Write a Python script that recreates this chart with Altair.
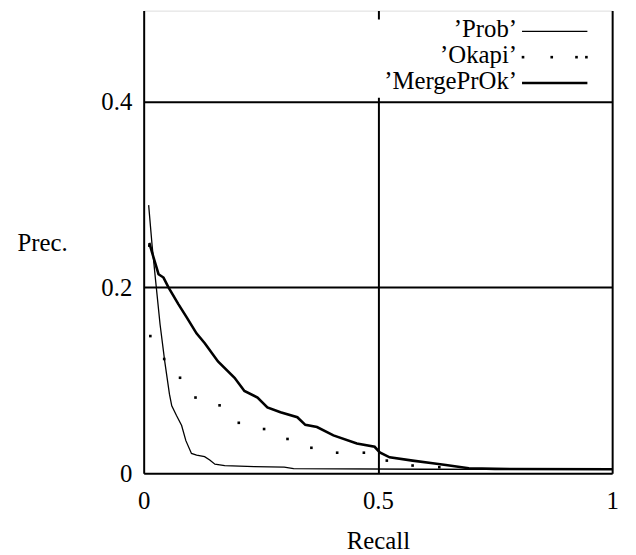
import altair as alt
import pandas as pd

# ---- data ----
prob_recall = [0.0106, 0.018, 0.0247, 0.035, 0.045, 0.055, 0.0599, 0.07, 0.081, 0.09, 0.102,
               0.113, 0.130, 0.141, 0.152, 0.173, 0.236, 0.30, 0.32, 0.60, 1.0]
prob_prec = [0.2886, 0.245, 0.211, 0.16, 0.12, 0.085, 0.0725, 0.062, 0.0513, 0.035, 0.0212,
             0.0195, 0.0177, 0.0142, 0.0096, 0.0082, 0.0071, 0.0064, 0.0048, 0.0042, 0.004]

okapi_recall = [0.012, 0.0142, 0.0438, 0.0776, 0.1106, 0.162, 0.203, 0.257, 0.307, 0.358,
                0.413, 0.470, 0.519, 0.574, 0.631]
okapi_prec = [0.245, 0.1476, 0.1229, 0.1027, 0.0814, 0.073, 0.0542, 0.0475, 0.0368, 0.0273,
              0.022, 0.022, 0.0135, 0.0082, 0.0064]

merge_recall = [0.012, 0.0211, 0.0317, 0.0423, 0.0529, 0.074, 0.0915, 0.1127, 0.1304, 0.1586,
                0.194, 0.215, 0.243, 0.264, 0.292, 0.328, 0.345, 0.370, 0.405, 0.455, 0.493,
                0.504, 0.525, 0.574, 0.617, 0.645, 0.694, 0.75, 1.0]
merge_prec = [0.248, 0.232, 0.2142, 0.2106, 0.2, 0.182, 0.168, 0.1505, 0.1399, 0.1203,
              0.1027, 0.0885, 0.0814, 0.0708, 0.0655, 0.0602, 0.052, 0.0496, 0.0407, 0.0319, 0.0284,
              0.0223, 0.017, 0.0135, 0.0106, 0.0088, 0.0053, 0.0046, 0.0042]

legend_labels = ["\u2019Prob\u2019", "\u2019Okapi\u2019", "\u2019MergePrOk\u2019"]
x_ticks = [0, 0.5, 1]
y_ticks = [0, 0.2, 0.4]

FONT = "Liberation Serif"
W, H = 473, 467

prob_df = pd.DataFrame({"recall": prob_recall, "prec": prob_prec})
okapi_df = pd.DataFrame({"recall": okapi_recall, "prec": okapi_prec})
merge_df = pd.DataFrame({"recall": merge_recall, "prec": merge_prec})
one = pd.DataFrame({"k": [0]})

xscale = alt.Scale(domain=[0, 1], nice=False, zero=False)
yscale = alt.Scale(domain=[0, 0.498], nice=False, zero=False)

xenc = alt.X("recall:Q", scale=xscale, axis=alt.Axis(
    values=x_ticks, grid=True, gridColor="black", gridWidth=2, gridOpacity=1,
    domain=False, ticks=False, tickSize=0, labelFlush=False, labelOverlap=False,
    labelFont=FONT, labelFontSize=25, labelColor="black", labelBaseline="alphabetic",
    labelPadding=36, labelFontWeight="normal",
    labelExpr="datum.value == 0 ? '0' : (datum.value == 1 ? '1' : format(datum.value, '.1f'))",
    title="Recall", titleFont=FONT, titleFontSize=25, titleColor="black", titleFontWeight="normal",
    titleX=236.5, titleY=76, titleAlign="center", titleBaseline="alphabetic", titleAngle=0))
yenc = alt.Y("prec:Q", scale=yscale, axis=alt.Axis(
    values=y_ticks, grid=True, gridColor="black", gridWidth=2, gridOpacity=1,
    domain=False, ticks=False, tickSize=0, labelFlush=False, labelOverlap=False,
    labelFont=FONT, labelFontSize=25, labelColor="black", labelPadding=12,
    labelFontWeight="normal",
    labelExpr="datum.value == 0 ? '0' : format(datum.value, '.1f')",
    title="Prec.", titleFont=FONT, titleFontSize=25, titleColor="black", titleFontWeight="normal",
    titleAngle=0, titleX=-102.5, titleY=234, titleAlign="center", titleBaseline="middle"))

base_x = alt.X("recall:Q", scale=xscale)
base_y = alt.Y("prec:Q", scale=yscale)

prob = alt.Chart(prob_df).mark_line(color="black", strokeWidth=1.3).encode(x=xenc, y=yenc)
merge = alt.Chart(merge_df).mark_line(color="black", strokeWidth=2.6).encode(x=base_x, y=base_y)
okapi = alt.Chart(okapi_df).mark_square(color="black", size=7, opacity=1).encode(x=base_x, y=base_y)

# legend (manual, in pixel positions)
leg_box = alt.Chart(one).mark_rect(fill="white").encode(
    x=alt.value(233), x2=alt.value(470), y=alt.value(9), y2=alt.value(88))
leg_layers = [leg_box]
for i, lab in enumerate(legend_labels):
    leg_layers.append(alt.Chart(one).mark_text(
        align="right", baseline="alphabetic", font=FONT, fontSize=25, fontWeight="normal",
        color="black").encode(
        x=alt.value(377), y=alt.value(27 + 26 * i), text=alt.value(lab)))
leg_layers.append(alt.Chart(one).mark_rule(color="black", strokeWidth=1.3).encode(
    x=alt.value(382), x2=alt.value(448), y=alt.value(21)))
leg_layers.append(alt.Chart(one).mark_rule(color="black", strokeWidth=2.6).encode(
    x=alt.value(382), x2=alt.value(448), y=alt.value(73)))
for px in [383, 412, 437, 447]:
    leg_layers.append(alt.Chart(one).mark_square(color="black", size=7, opacity=1).encode(
        x=alt.value(px), y=alt.value(47)))

chart = alt.layer(prob, merge, okapi, *leg_layers).properties(
    width=W, height=H,
    autosize=alt.AutoSizeParams(type="none"),
    padding={"left": 137, "top": 0, "right": 16, "bottom": 80},
    background="white",
).configure_view(stroke="black", strokeWidth=2).configure_axis(
    labelFont=FONT, titleFont=FONT
).configure(font=FONT)

chart.save("out.html", embed_options={"renderer": "svg", "actions": False})
